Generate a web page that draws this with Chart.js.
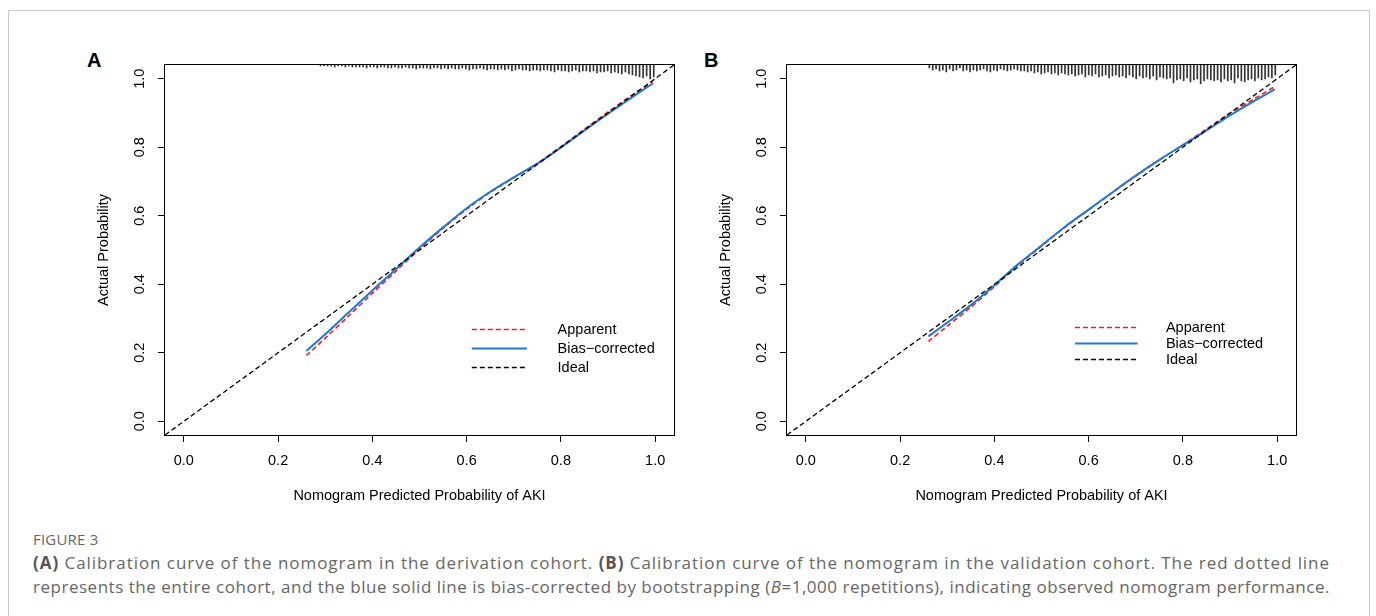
<!DOCTYPE html>
<html>
<head>
<meta charset="utf-8">
<script src="https://cdn.jsdelivr.net/npm/chart.js@4.4.0/dist/chart.umd.min.js"></script>
<style>
  html, body { margin: 0; padding: 0; background: #fff; }
  body { width: 1376px; height: 616px; position: relative; overflow: hidden; }
  .frame { position: absolute; left: 8px; top: 10px; width: 1360px; height: 700px; border: 1px solid #c9c9c9; }
  .panel { position: absolute; top: 40px; }
  .tag { position: absolute; top: 50px; font: bold 20px/20px "Liberation Sans", Arial, sans-serif; color: #000; }
  .caption { position: absolute; left: 33px; font-family: "Open Sans", sans-serif; color: #666; white-space: nowrap; }
  .caption b { color: #555; }
  .fig { top: 529px; font-size: 15px; line-height: 20px; letter-spacing: 0.2px; }
  .text { font-size: 17px; line-height: 24px; }
</style>
</head>
<body>
<div class="frame"></div>
<div class="tag" style="left:87px">A</div>
<div class="tag" style="left:704px">B</div>
<canvas id="chartA" class="panel" style="left:85px" width="600" height="480"></canvas>
<canvas id="chartB" class="panel" style="left:707px" width="600" height="480"></canvas>
<div class="caption fig">FIGURE 3</div>
<div class="caption text" style="top:551px"><b>(A)</b> Calibration curve of the nomogram in the derivation cohort. <b>(B)</b> Calibration curve of the nomogram in the validation cohort. The red dotted line</div>
<div class="caption text" style="top:575px">represents the entire cohort, and the blue solid line is bias-corrected by bootstrapping (<i>B</i>=1,000 repetitions), indicating observed nomogram performance.</div>

<script>
// axis settings shared by both panels (R style: range expanded by 4%)
var axisMin = -0.04;
var axisMax = 1.04;
var tickValues = [0, 0.2, 0.4, 0.6, 0.8, 1.0];
var seriesNames = ['Apparent', 'Bias\u2212corrected', 'Ideal'];
var xTitle = 'Nomogram Predicted Probability of AKI';
var yTitle = 'Actual Probability';

var pred = [0.26, 0.30, 0.35, 0.40, 0.45, 0.50, 0.55, 0.60, 0.65, 0.70, 0.75, 0.80, 0.85, 0.90, 0.95, 0.995];

// panel A - derivation cohort
var apparentA  = [0.192, 0.243, 0.308, 0.374, 0.438, 0.503, 0.563, 0.619, 0.668, 0.711, 0.753, 0.802, 0.853, 0.903, 0.951, 0.991];
var correctedA = [0.205, 0.254, 0.318, 0.382, 0.444, 0.507, 0.566, 0.622, 0.670, 0.712, 0.752, 0.799, 0.849, 0.898, 0.945, 0.986];
// rug of predicted values (relative frequencies) between rugRangeA
var rugRangeA = [0.290, 0.997];
var rugA = [1, 1, 1, 1, 2, 1, 1, 2, 1, 2, 2,
            2, 2, 3, 2, 2, 3, 2, 2, 3, 3, 2, 3,
            3, 2, 3, 3, 4, 3, 3, 3, 4, 3, 3, 4, 3,
            4, 3, 4, 4, 3, 4, 5, 4, 4, 3, 4, 5, 4,
            4, 5, 4, 5, 4, 6, 5, 4, 5, 5, 6, 5, 5,
            6, 5, 5, 6, 7, 5, 6, 6, 7, 6, 5, 7, 6,
            6, 7, 6, 8, 7, 7, 6, 8, 7, 8, 9, 7,
            9, 10, 11, 12, 13, 11, 14, 12];

// panel B - validation cohort
var apparentB  = [0.233, 0.278, 0.333, 0.393, 0.455, 0.511, 0.567, 0.617, 0.667, 0.716, 0.763, 0.807, 0.853, 0.899, 0.940, 0.977];
var correctedB = [0.248, 0.288, 0.339, 0.397, 0.458, 0.513, 0.568, 0.618, 0.668, 0.717, 0.763, 0.806, 0.849, 0.893, 0.934, 0.969];
var rugRangeB = [0.262, 0.996];
var rugB = [3, 5, 4, 6, 5, 7, 4, 6, 5, 3, 6, 5, 7, 5,
            6, 5, 4, 6, 7, 5, 6, 4, 5, 6, 5, 4, 5, 6,
            6, 7, 6, 8, 7, 9, 8, 7, 9, 8, 10, 8, 9, 10,
            9, 11, 10, 9, 12, 10, 11, 9, 12, 11, 10, 13, 11, 10,
            12, 11, 13, 10, 12, 14, 11, 13, 12, 14, 11, 15, 12, 13,
            14, 13, 18, 15, 14, 16, 13, 17, 15, 14, 19, 16, 14, 15,
            16, 15, 17, 14, 16, 15, 18, 13, 16, 17, 15, 14, 16, 13, 15, 14, 12, 13, 10];

var rugUnit = 0.0029;   // one rug step in y units
var fontFamily = '"Liberation Sans", Arial, sans-serif';

function toPoints(xs, ys) {
    return xs.map(function (x, i) {
        return {x: x, y: ys[i]};
    });
}

function rugPoints(heights, range) {
    var step = (range[1] - range[0]) / (heights.length - 1);
    return heights.map(function (h, i) {
        return {x: range[0] + i * step, y: [axisMax, axisMax - h * rugUnit]};
    });
}

// box around the plot region, as R's box()
var boxPlugin = {
    id: 'rBox',
    afterDatasetsDraw: function (chart) {
        var a = chart.chartArea, ctx = chart.ctx;
        ctx.save();
        ctx.strokeStyle = '#000';
        ctx.lineWidth = 1;
        ctx.strokeRect(a.left - 0.5, a.top - 0.5, a.right - a.left + 1, a.bottom - a.top + 1);
        ctx.restore();
    }
};

// legend with line samples, placed in data coordinates like legend(x, y)
var legendPlugin = {
    id: 'rLegend',
    afterDatasetsDraw: function (chart, args, opts) {
        var ctx = chart.ctx, xs = chart.scales.x, ys = chart.scales.y;
        var x0 = xs.getPixelForValue(opts.lineFrom);
        var x1 = xs.getPixelForValue(opts.lineTo);
        var xt = xs.getPixelForValue(opts.textAt);
        ctx.save();
        seriesNames.forEach(function (name, i) {
            var ds = chart.data.datasets.filter(function (d) { return d.label === name; })[0];
            var y = Math.round(ys.getPixelForValue(opts.rows[i])) + 0.5;
            ctx.strokeStyle = ds.borderColor;
            ctx.lineWidth = ds.borderWidth;
            ctx.setLineDash(ds.borderDash || []);
            ctx.beginPath();
            ctx.moveTo(x0, y);
            ctx.lineTo(x1, y);
            ctx.stroke();
            ctx.setLineDash([]);
            ctx.fillStyle = '#000';
            ctx.font = '14.5px ' + fontFamily;
            ctx.textBaseline = 'middle';
            ctx.fillText(name, xt, y);
        });
        ctx.restore();
    }
};

function makePanel(canvasId, apparent, corrected, rug, rugRange, legend) {
    var tickFont = {family: fontFamily, size: 14.5};
    new Chart(document.getElementById(canvasId), {
        type: 'scatter',
        data: {
            datasets: [{
                label: 'Ideal',
                data: toPoints([axisMin, axisMax], [axisMin, axisMax]),
                showLine: true,
                borderColor: '#000',
                borderWidth: 1.3,
                borderDash: [5, 3],
                pointRadius: 0
            }, {
                label: seriesNames[1],
                data: toPoints(pred, corrected),
                showLine: true,
                tension: 0.3,
                borderColor: '#1f78d1',
                borderWidth: 2,
                pointRadius: 0
            }, {
                label: seriesNames[0],
                data: toPoints(pred, apparent),
                showLine: true,
                tension: 0.3,
                borderColor: '#ff1a1a',
                borderWidth: 1.6,
                borderDash: [5, 3],
                pointRadius: 0
            }, {
                type: 'bar',
                label: 'rug',
                data: rugPoints(rug, rugRange),
                backgroundColor: '#333',
                borderWidth: 0,
                barThickness: 1,
                clip: false
            }]
        },
        options: {
            responsive: false,
            animation: false,
            events: [],
            layout: {padding: {top: 25, right: 11, bottom: 0, left: 0}},
            plugins: {
                legend: {display: false},
                tooltip: {enabled: false},
                rLegend: legend
            },
            scales: {
                x: {
                    type: 'linear',
                    min: axisMin,
                    max: axisMax,
                    offset: false,
                    afterBuildTicks: function (s) {
                        s.ticks = tickValues.map(function (v) { return {value: v}; });
                    },
                    afterFit: function (s) { s.height = 85; },
                    grid: {offset: false, drawOnChartArea: false, drawTicks: true, tickLength: 7, color: '#000'},
                    border: {display: false},
                    ticks: {
                        font: tickFont, color: '#000', padding: 10, maxRotation: 0,
                        callback: function (v) { return v.toFixed(1); }
                    },
                    title: {display: true, text: xTitle, font: tickFont, color: '#000', padding: {top: 0, bottom: 15}}
                },
                y: {
                    type: 'linear',
                    min: axisMin,
                    max: axisMax,
                    afterBuildTicks: function (s) {
                        s.ticks = tickValues.map(function (v) { return {value: v}; });
                    },
                    afterFit: function (s) { s.width = 80; },
                    grid: {drawOnChartArea: false, drawTicks: true, tickLength: 7, color: '#000'},
                    border: {display: false},
                    ticks: {
                        font: tickFont, color: '#000', padding: 8, minRotation: 90, maxRotation: 90,
                        crossAlign: 'center',
                        callback: function (v) { return v.toFixed(1); }
                    },
                    title: {display: true, text: yTitle, font: tickFont, color: '#000', padding: {top: 10, bottom: 0}}
                }
            }
        },
        plugins: [boxPlugin, legendPlugin]
    });
}

makePanel('chartA', apparentA, correctedA, rugA, rugRangeA,
    {lineFrom: 0.611, lineTo: 0.728, textAt: 0.793, rows: [0.268, 0.213, 0.159]});
makePanel('chartB', apparentB, correctedB, rugB, rugRangeB,
    {lineFrom: 0.571, lineTo: 0.704, textAt: 0.764, rows: [0.276, 0.230, 0.183]});

// stretch each caption line to the width it has in the figure
document.querySelectorAll('.caption.text').forEach(function (el) {
    var natural = el.getBoundingClientRect().width;
    el.style.letterSpacing = ((1297 - natural) / el.textContent.length) + 'px';
});
</script>
</body>
</html>
